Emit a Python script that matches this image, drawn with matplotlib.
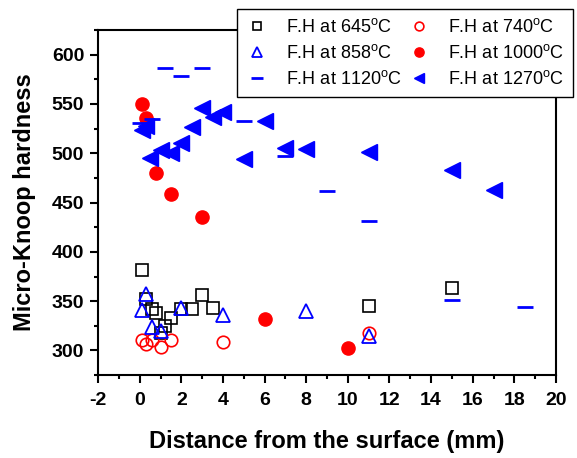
import matplotlib
matplotlib.use("Agg")
import matplotlib.pyplot as plt
from matplotlib.ticker import MultipleLocator

plt.rcParams['font.family'] = ['Liberation Sans', 'DejaVu Sans']
plt.rcParams['mathtext.fontset'] = 'custom'
plt.rcParams['mathtext.rm'] = 'Liberation Sans'
plt.rcParams['mathtext.it'] = 'Liberation Sans'
plt.rcParams['axes.unicode_minus'] = False

# Data (distance mm, hardness)
x645 = [0.1, 0.3, 0.6, 0.8, 1.0, 1.2, 1.5, 2.0, 2.5, 3.0, 3.5, 11, 15]
y645 = [382, 352, 342, 338, 318, 325, 333, 342, 342, 356, 343, 345, 363]

x740 = [0.1, 0.3, 0.6, 1.0, 1.5, 4.0, 11]
y740 = [311, 307, 311, 304, 311, 309, 318]

x858 = [0.1, 0.3, 0.6, 1.0, 2.0, 4.0, 8, 11]
y858 = [341, 357, 324, 320, 343, 336, 340, 315]

x1000 = [0.1, 0.3, 0.8, 1.5, 3.0, 6, 10]
y1000 = [550, 536, 480, 459, 435, 332, 302]

x1120 = [0.0, 0.6, 1.2, 2.0, 3.0, 5, 7, 9, 11, 15, 18.5]
y1120 = [531, 535, 586, 578, 586, 533, 497, 462, 431, 351, 344]

x1270 = [0.1, 0.3, 0.5, 1.0, 1.5, 2.0, 2.5, 3.0, 3.5, 4.0, 5, 6, 7, 8, 11, 15, 17]
y1270 = [524, 528, 495, 503, 500, 510, 527, 546, 537, 542, 494, 533, 505, 504, 501, 483, 463]

labels = [r'F.H at 645$^\mathrm{o}$C', r'F.H at 740$^\mathrm{o}$C', r'F.H at 858$^\mathrm{o}$C',
          r'F.H at 1000$^\mathrm{o}$C', r'F.H at 1120$^\mathrm{o}$C', r'F.H at 1270$^\mathrm{o}$C']

fig = plt.figure(figsize=(5.77, 4.58), dpi=100)
ax = fig.add_axes([0.170, 0.181, 0.7936, 0.7535])

h645, = ax.plot(x645, y645, ls='none', marker='s', ms=8, mfc='none', mec='black', mew=1.2)
h740, = ax.plot(x740, y740, ls='none', marker='o', ms=9, mfc='none', mec='red', mew=1.2)
h858, = ax.plot(x858, y858, ls='none', marker='^', ms=10, mfc='none', mec='blue', mew=1.3)
h1000, = ax.plot(x1000, y1000, ls='none', marker='o', ms=9.5, mfc='red', mec='red')
h1120, = ax.plot(x1120, y1120, ls='none', marker='_', ms=12, mec='blue', mew=2)
h1270, = ax.plot(x1270, y1270, ls='none', marker='<', ms=11, mfc='blue', mec='blue')

ax.set_xlim(-2, 20)
ax.set_ylim(275, 625)
ax.xaxis.set_major_locator(MultipleLocator(2))
ax.xaxis.set_minor_locator(MultipleLocator(1))
ax.set_yticks([300, 350, 400, 450, 500, 550, 600])
ax.yaxis.set_minor_locator(MultipleLocator(25))

for s in ax.spines.values():
    s.set_linewidth(1.5)
ax.tick_params(which='major', direction='out', length=6, width=1.5, labelsize=14)
ax.tick_params(which='minor', direction='out', length=3, width=1.5)
ax.tick_params(axis='x', which='major', pad=6)
ax.tick_params(axis='y', which='major', pad=4)
for t in ax.get_xticklabels() + ax.get_yticklabels():
    t.set_fontweight('bold')

ax.set_xlabel('Distance from the surface (mm)', fontsize=17, fontweight='bold', labelpad=15)
ax.set_ylabel('Micro-Knoop hardness', fontsize=17, fontweight='bold', labelpad=11)

handles = [h645, h858, h1120, h740, h1000, h1270]
leg_labels = [labels[0], labels[2], labels[4], labels[1], labels[3], labels[5]]
leg = fig.legend(handles, leg_labels, loc='upper left', bbox_to_anchor=(0.411, 0.98),
                 ncol=2, fontsize=13, frameon=True, fancybox=False, markerscale=0.7,
                 handlelength=1.2, handletextpad=1.0, columnspacing=0.35,
                 labelspacing=0.45, borderpad=0.5, borderaxespad=0)
leg.get_frame().set_edgecolor('black')
leg.get_frame().set_linewidth(1.0)
leg.get_frame().set_alpha(1)

fig.savefig('out.png', dpi=100)
